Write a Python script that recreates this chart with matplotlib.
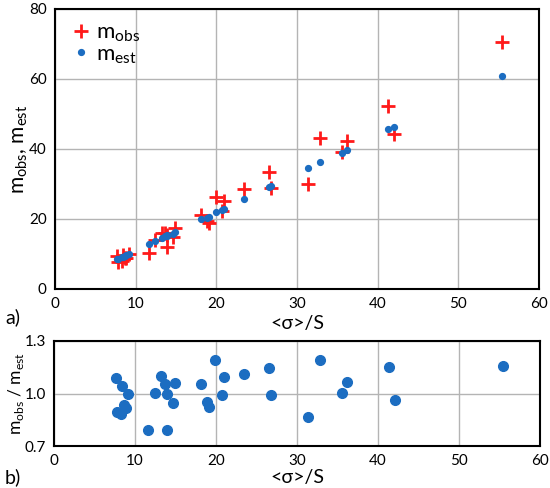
import matplotlib
matplotlib.use("Agg")
import matplotlib.pyplot as plt

plt.rcParams['font.family'] = ['Lato', 'DejaVu Sans']
plt.rcParams['mathtext.fontset'] = 'custom'
plt.rcParams['mathtext.rm'] = 'Lato'

# <sigma>/S values
x_vals = [7.63, 8.40, 9.14, 8.69, 8.86, 7.83, 8.28, 11.65, 12.42, 13.24, 13.65, 13.90,
          14.64, 13.94, 14.88, 18.12, 18.86, 19.15, 19.93, 20.75, 21.00, 23.45, 26.53,
          26.80, 32.88, 31.40, 35.55, 36.20, 41.33, 42.07, 55.43]
m_obs = [9.4, 9.6, 9.95, 8.9, 8.9, 7.8, 8.0, 10.2, 13.9, 16.1, 16.0, 15.3,
         14.9, 12.1, 17.4, 21.1, 19.45, 19.0, 26.2, 22.3, 25.1, 28.5, 33.3,
         29.0, 43.1, 30.0, 39.1, 42.3, 52.4, 44.3, 70.6]
m_est = [8.6, 9.2, 10.0, 9.5, 9.7, 8.7, 9.1, 12.8, 13.8, 14.7, 15.2, 15.4,
         15.8, 15.2, 16.4, 20.0, 20.4, 20.6, 22.0, 22.5, 23.0, 25.7, 29.1,
         29.3, 36.2, 34.6, 38.9, 39.8, 45.6, 46.4, 61.0]
ratio = [1.089, 1.043, 0.995, 0.934, 0.917, 0.894, 0.881, 0.793, 1.005, 1.098, 1.054, 0.995,
         0.944, 0.793, 1.062, 1.056, 0.953, 0.921, 1.193, 0.990, 1.093, 1.111, 1.144,
         0.990, 1.191, 0.867, 1.003, 1.066, 1.151, 0.963, 1.159]

x_ticks = [0, 10, 20, 30, 40, 50, 60]
y_ticks_top = [0, 20, 40, 60, 80]
y_ticks_bot = [0.7, 1.0, 1.3]

RED = '#FF1A1A'
BLUE = '#1C6DC1'
GRID = '#b4b4b4'
TICK_FS = 11
LABEL_FS = 14

fig = plt.figure(figsize=(5.5, 4.88), dpi=100)
ax1 = fig.add_axes([55/550, 1-289/488, (539-55)/550, (289-9)/488])
ax2 = fig.add_axes([54/550, 1-446/488, (540-54)/550, (446-341)/488])

# top panel
ax1.plot(x_vals, m_obs, linestyle='none', marker='+', color=RED, markersize=10,
         markeredgewidth=2, label=r'm$_{\rm obs}$', zorder=3)
ax1.plot(x_vals, m_est, linestyle='none', marker='o', color=BLUE, markersize=4.2,
         label=r'm$_{\rm est}$', zorder=4)
ax1.set_xlim(0, 60)
ax1.set_ylim(0, 80)
ax1.set_xticks(x_ticks)
ax1.set_yticks(y_ticks_top)
ax1.grid(True, color=GRID, linewidth=1)
ax1.set_axisbelow(True)
ax1.tick_params(length=0, labelsize=TICK_FS, pad=6)
ax1.set_xlabel('<σ>/S', fontsize=LABEL_FS)
ax1.xaxis.label.set_va('center')
ax1.xaxis.set_label_coords(0.5, (289-323)/280)
ax1.set_ylabel(r'm$_{\rm obs}$, m$_{\rm est}$', fontsize=LABEL_FS + 1)
ax1.yaxis.label.set_va('center')
ax1.yaxis.set_label_coords((20-55)/484, 0.5)
leg = ax1.legend(loc='upper left', frameon=False, fontsize=16, handletextpad=0.15,
                 borderaxespad=0.2, labelspacing=0.0, handlelength=1.1,
                 borderpad=0.4)
for sp in ax1.spines.values():
    sp.set_linewidth(1.5)

# bottom panel
ax2.plot(x_vals, ratio, linestyle='none', marker='o', color=BLUE, markersize=7, zorder=3)
ax2.set_xlim(0, 60)
ax2.set_ylim(0.7, 1.3)
ax2.set_xticks(x_ticks)
ax2.set_yticks(y_ticks_bot)
ax2.set_yticklabels([f'{v:.1f}' for v in y_ticks_bot])
ax2.grid(True, color=GRID, linewidth=1)
ax2.set_axisbelow(True)
ax2.tick_params(length=0, labelsize=TICK_FS, pad=6)
ax2.set_xlabel('<σ>/S', fontsize=LABEL_FS)
ax2.xaxis.label.set_va('center')
ax2.xaxis.set_label_coords(0.5, (446-478)/105)
ax2.set_ylabel(r'm$_{\rm obs}$ / m$_{\rm est}$', fontsize=12.5)
ax2.yaxis.label.set_va('center')
ax2.yaxis.set_label_coords((16-54)/486, 0.5)
for sp in ax2.spines.values():
    sp.set_linewidth(1.5)

fig.text(5/550, 1-317/488, 'a)', fontsize=LABEL_FS, va='center', ha='left')
fig.text(5/550, 1-477/488, 'b)', fontsize=LABEL_FS, va='center', ha='left')

fig.savefig('out.png', dpi=100)
